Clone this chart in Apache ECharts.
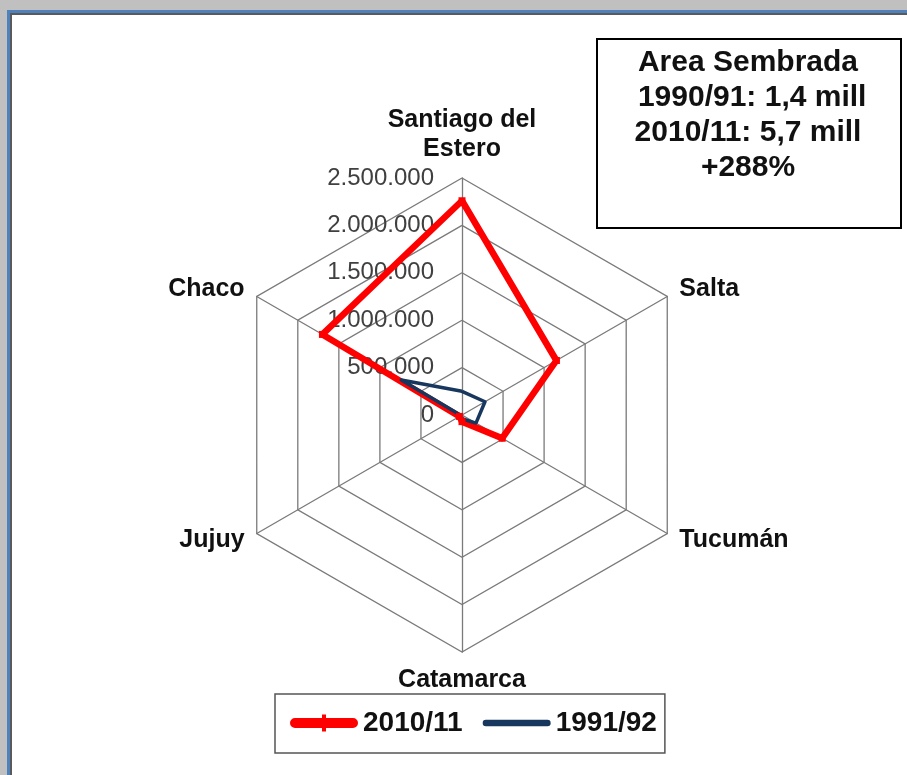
<!DOCTYPE html>
<html>
<head>
<meta charset="utf-8">
<script src="https://cdn.jsdelivr.net/npm/echarts@6/dist/echarts.min.js"></script>
<style>
  html, body { margin: 0; padding: 0; background: #c0c0c0; }
  #frame {
    position: absolute; left: 7px; top: 10px; right: 0; bottom: 0;
    border-top: 3px solid #4f81bd; border-left: 3px solid #4f81bd;
    background: #fff; box-shadow: inset 2px 2px 0 #5a5a5a;
  }
  #chart { position: absolute; left: 0; top: 0; width: 907px; height: 775px; }
</style>
</head>
<body>
<div id="frame"></div>
<div id="chart"></div>
<script>
  // provincias, en el orden de la figura (sentido horario desde arriba)
  const provincias = ['Santiago del\nEstero', 'Salta', 'Tucumán', 'Catamarca', 'Jujuy', 'Chaco']
  // área sembrada (ha)
  const serie2010 = [2260000, 1150000, 490000, 70000, 30000, 1700000]
  const serie1991 = [250000, 280000, 170000, 40000, 10000, 740000]
  const nombresSeries = ['2010/11', '1991/92']
  const maxValor = 2500000
  const cuadroTexto = ['Area Sembrada', ' 1990/91: 1,4 mill', '2010/11: 5,7 mill', '+288%']

  // echarts ubica los indicadores en sentido antihorario
  const orden = [0, 5, 4, 3, 2, 1]
  const reordenar = arr => orden.map(i => arr[i])

  const miles = v => String(v).replace(/\B(?=(\d{3})+(?!\d))/g, '.')

  const indicator = reordenar(provincias).map((name, i) => ({
    name: name,
    min: 0,
    max: maxValor,
    axisLabel: { show: i === 0 }
  }))

  const chart = echarts.init(document.getElementById('chart'))

  chart.setOption({
    animation: false,
    textStyle: { fontFamily: 'Arial, "Liberation Sans", sans-serif' },
    legend: {
      left: 275,
      top: 694,
      padding: [14, 8, 15, 15],
      borderColor: '#555',
      borderWidth: 1.5,
      itemWidth: 68,
      itemHeight: 17,
      itemGap: 20,
      textStyle: { fontSize: 28, fontWeight: 'bold', color: '#111', lineHeight: 30 },
      data: [
        {
          name: nombresSeries[0],
          icon: 'path://M5,3.5 L63,3.5 A5,5 0 0 1 63,13.5 L5,13.5 A5,5 0 0 1 5,3.5 Z M32,0 L36,0 L36,17 L32,17 Z'
        },
        {
          name: nombresSeries[1],
          icon: 'path://M3,0 L61,0 A3,3 0 0 1 61,6 L3,6 A3,3 0 0 1 3,0 Z'
        }
      ]
    },
    radar: {
      center: [462, 415],
      radius: 237,
      startAngle: 90,
      splitNumber: 5,
      shape: 'polygon',
      nameGap: 14,
      axisName: {
        color: '#111',
        fontSize: 25,
        fontWeight: 'bold',
        lineHeight: 29
      },
      axisLine: { lineStyle: { color: '#7a7a7a', width: 1.3 } },
      splitLine: { lineStyle: { color: '#7a7a7a', width: 1.3 } },
      splitArea: { show: false },
      axisLabel: {
        color: '#404040',
        fontSize: 24,
        margin: 28,
        formatter: v => miles(v)
      },
      indicator: indicator
    },
    series: [
      {
        type: 'radar',
        data: [
          {
            name: nombresSeries[0],
            value: reordenar(serie2010),
            symbol: 'rect',
            symbolSize: 7,
            itemStyle: { color: '#ff0000' },
            lineStyle: { color: '#ff0000', width: 6.5, join: 'round' }
          },
          {
            name: nombresSeries[1],
            value: reordenar(serie1991),
            symbol: 'none',
            itemStyle: { color: '#17375e' },
            lineStyle: { color: '#17375e', width: 3.5, join: 'round' }
          }
        ]
      }
    ],
    graphic: [
      {
        type: 'rect',
        left: 596,
        top: 38,
        shape: { width: 304, height: 189 },
        style: { fill: '#fff', stroke: '#000', lineWidth: 2 }
      },
      {
        type: 'text',
        x: 748,
        y: 45,
        style: {
          text: cuadroTexto.join('\n'),
          align: 'center',
          verticalAlign: 'top',
          fontSize: 30,
          fontWeight: 'bold',
          lineHeight: 35,
          fill: '#111',
          fontFamily: 'Arial, "Liberation Sans", sans-serif'
        }
      }
    ]
  })
</script>
</body>
</html>
